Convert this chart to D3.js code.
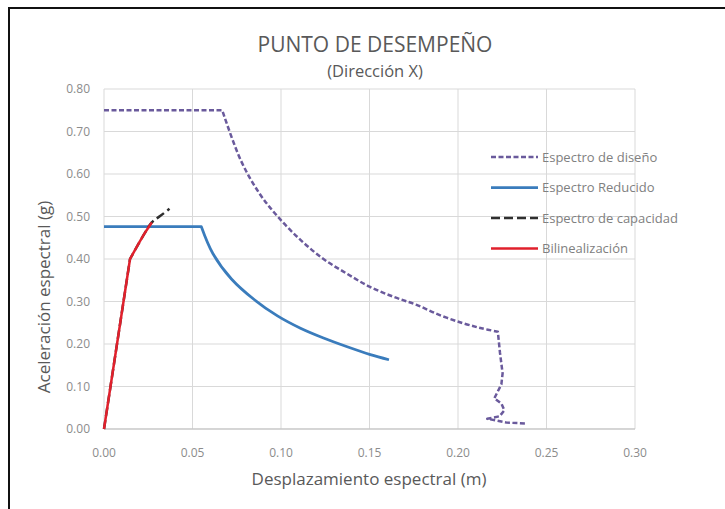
<!DOCTYPE html>
<html lang="es">
<head>
  <meta charset="UTF-8">
  <title>Punto de desempeño</title>
  <script src="https://d3js.org/d3.v7.min.js"></script>
  <style>
    body { margin: 0; background: #fff; font-family: "Open Sans", sans-serif; }
    .grid line { stroke: #d9d9d9; stroke-width: 1px; }
    .tick-label { font-size: 12px; fill: #8c8c8c; }
  </style>
</head>
<body>
<svg id="chart" width="725" height="509"></svg>

<script>
// Espectro de diseño (Sd m, Sa g)
const disenoX = [0.000, 0.0668, 0.0772, 0.0877, 0.0981, 0.111, 0.124, 0.137, 0.150, 0.1636, 0.1766, 0.1897, 0.2028, 0.2133, 0.2225,
                 0.2237, 0.2252, 0.2245, 0.2205, 0.2245, 0.2262, 0.2235, 0.2165, 0.2215, 0.2275, 0.2385];
const disenoY = [0.750, 0.750, 0.633, 0.555, 0.500, 0.445, 0.400, 0.366, 0.335, 0.311, 0.292, 0.268, 0.249, 0.237, 0.229,
                 0.180, 0.131, 0.105, 0.072, 0.060, 0.044, 0.030, 0.024, 0.020, 0.015, 0.013];

// Espectro reducido
const reducidoX = [0.000, 0.055, 0.0615, 0.072, 0.085, 0.098, 0.111, 0.124, 0.137, 0.1505, 0.161];
const reducidoY = [0.476, 0.476, 0.413, 0.353, 0.304, 0.266, 0.237, 0.214, 0.194, 0.175, 0.163];

// Espectro de capacidad
const capacidadX = [0.000, 0.0147, 0.0194, 0.0232, 0.027, 0.0317, 0.037];
const capacidadY = [0.000, 0.400, 0.435, 0.462, 0.486, 0.501, 0.518];

// Bilinealización
const bilinealX = [0.000, 0.0147, 0.0194, 0.0232, 0.027];
const bilinealY = [0.000, 0.400, 0.435, 0.462, 0.486];

const xTicks = [0, 0.05, 0.10, 0.15, 0.20, 0.25, 0.30];
const yTicks = [0, 0.1, 0.2, 0.3, 0.4, 0.5, 0.6, 0.7, 0.8];

const smooth = d3.curveCatmullRom.alpha(0.5);
const straight = d3.curveLinear;

// tramos: [desde, hasta (índices), tipo de curva]
const series = [
  { name: "Espectro de diseño", xs: disenoX, ys: disenoY, parts: [[0, 1, straight], [1, 14, smooth], [14, 25, straight]],
    color: "#6a5a9c", width: 2.5, dash: "5,2.5" },
  { name: "Espectro Reducido", xs: reducidoX, ys: reducidoY, parts: [[0, 1, straight], [1, 10, smooth]],
    color: "#3a7cbc", width: 2.75, dash: null },
  { name: "Espectro de capacidad", xs: capacidadX, ys: capacidadY, parts: [[0, 1, straight], [1, 6, smooth]],
    color: "#2f2f2f", width: 2.5, dash: "9,4" },
  { name: "Bilinealización", xs: bilinealX, ys: bilinealY, parts: [[0, 1, straight], [1, 4, smooth]],
    color: "#e0202c", width: 2.5, dash: null }
];

const svg = d3.select("#chart");
const x = d3.scaleLinear().domain([0, 0.3]).range([104, 635]);
const y = d3.scaleLinear().domain([0, 0.8]).range([429, 89]);

// marco
svg.append("line").attr("x1", 8).attr("x2", 725).attr("y1", 8).attr("y2", 8)
  .attr("stroke", "#111").attr("stroke-width", 2);
svg.append("line").attr("x1", 9).attr("x2", 9).attr("y1", 7).attr("y2", 509)
  .attr("stroke", "#111").attr("stroke-width", 2);

// rejilla
const grid = svg.append("g").attr("class", "grid");
grid.selectAll(".h").data(yTicks).join("line")
  .attr("x1", x(0)).attr("x2", x(0.3))
  .attr("y1", d => y(d)).attr("y2", d => y(d));
grid.selectAll(".v").data(xTicks).join("line")
  .attr("y1", y(0)).attr("y2", y(0.8))
  .attr("x1", d => x(d)).attr("x2", d => x(d));
svg.append("line").attr("x1", x(0)).attr("x2", x(0.3)).attr("y1", y(0)).attr("y2", y(0))
  .attr("stroke", "#bfbfbf").attr("stroke-width", 1);

// etiquetas de ejes
svg.selectAll(".yl").data(yTicks).join("text")
  .attr("class", "tick-label")
  .attr("x", 90).attr("y", d => y(d)).attr("dy", "0.35em")
  .attr("text-anchor", "end")
  .text(d => d.toFixed(2));
svg.selectAll(".xl").data(xTicks).join("text")
  .attr("class", "tick-label")
  .attr("x", d => x(d)).attr("y", 457)
  .attr("text-anchor", "middle")
  .text(d => d.toFixed(2));

// curvas: un solo path por serie, tramos rectos y suavizados
series.forEach(s => {
  const pts = s.xs.map((v, i) => [x(v), y(s.ys[i])]);
  const path = d3.path();
  s.parts.forEach(([a, b, curve], k) => {
    const seg = pts.slice(a, b + 1);
    const ctx = {
      moveTo: (px, py) => (k === 0 ? path.moveTo(px, py) : path.lineTo(px, py)),
      lineTo: (px, py) => path.lineTo(px, py),
      bezierCurveTo: (...c) => path.bezierCurveTo(...c),
      closePath: () => path.closePath()
    };
    d3.line().curve(curve).context(ctx)(seg);
  });
  svg.append("path")
    .attr("d", path.toString())
    .attr("fill", "none")
    .attr("stroke", s.color)
    .attr("stroke-width", s.width)
    .attr("stroke-dasharray", s.dash)
    .attr("stroke-linejoin", "round");
});

// leyenda
const leg = svg.append("g").attr("transform", "translate(491,157)");
leg.selectAll("g").data(series).join("g")
  .attr("transform", (_, i) => `translate(0, ${i * 30.5})`)
  .each(function(s) {
    const g = d3.select(this);
    g.append("line").attr("x1", 0).attr("x2", 47).attr("y1", 0).attr("y2", 0)
      .attr("stroke", s.color).attr("stroke-width", s.width).attr("stroke-dasharray", s.dash);
    g.append("text").attr("x", 51).attr("dy", "0.35em")
      .style("font-size", "13px").attr("fill", "#808080").text(s.name);
  });

// títulos
svg.append("text").attr("x", 375).attr("y", 52).attr("text-anchor", "middle")
  .style("font-size", "21px").attr("fill", "#595959").text("PUNTO DE DESEMPEÑO");
svg.append("text").attr("x", 375).attr("y", 77).attr("text-anchor", "middle")
  .style("font-size", "16.5px").attr("fill", "#595959").text("(Dirección X)");
svg.append("text").attr("x", 369).attr("y", 485).attr("text-anchor", "middle")
  .style("font-size", "17px").attr("fill", "#595959").text("Desplazamiento espectral (m)");
svg.append("text").attr("transform", "translate(50,297) rotate(-90)").attr("text-anchor", "middle")
  .style("font-size", "17px").attr("fill", "#595959").text("Aceleración espectral (g)");
</script>
</body>
</html>
